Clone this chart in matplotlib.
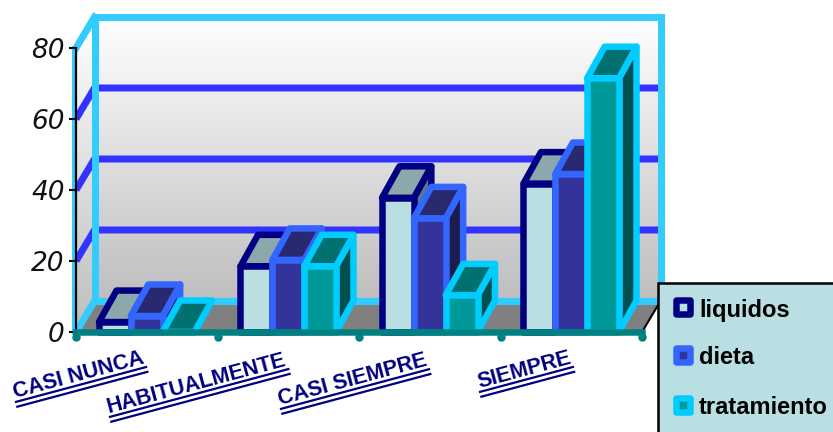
import matplotlib
matplotlib.use("Agg")
import matplotlib.pyplot as plt
import numpy as np
from matplotlib.colors import LinearSegmentedColormap
from matplotlib.patches import Polygon, Rectangle
from matplotlib.transforms import Affine2D, ScaledTranslation

categories = ["CASI NUNCA", "HABITUALMENTE", "CASI SIEMPRE", "SIEMPRE"]
series_names = ["liquidos", "dieta", "tratamiento"]
liquidos = [2.8, 18.5, 37.8, 41.8]
dieta = [4.5, 20.3, 32, 44.5]
tratamiento = [0, 18.5, 10.3, 71.5]
y_ticks = [0, 20, 40, 60, 80]

W, H = 833, 432
DPI = 100

front_colors = ["#b9dfe3", "#333399", "#009999"]
top_colors = ["#8ca8ac", "#29296f", "#007070"]
side_colors = ["#5a7a7e", "#1c1c4e", "#005050"]
edge_colors = ["#000080", "#3366ff", "#00ccff"]
WALL_CYAN = "#33ccff"
GRID_BLUE = "#3333ff"
TEAL = "#008080"
NAVY = "#000080"

fig = plt.figure(figsize=(W / DPI, H / DPI), dpi=DPI, facecolor="white")
ax = fig.add_axes([76 / W, (H - 332) / H, 566 / W, 284 / H])

# pixel coords, origin top left, for labels and legend
px = Affine2D().scale(1 / W, -1 / H).translate(0, 1) + fig.transFigure

x_lo, x_hi = -0.5, 3.5
y_hi = y_ticks[-1]
dx = 18.5 / (566 / 4)   # depth of the 3d box in data units
dy = 31 / (284 / y_hi)
bar_w = 0.225
bar_dx = 17.5 / (566 / 4)
bar_dy = 31.5 / (284 / y_hi)

px_pt = 72 / DPI
wall_lw = 7 * px_pt
bar_lw = 6.5 * px_pt
cmap = LinearSegmentedColormap.from_list("wall", ["#ffffff", "#bebebe"])
grad = np.linspace(0, 1, 256).reshape(-1, 1)

# back wall
ax.imshow(grad, cmap=cmap, aspect="auto", zorder=0.1, clip_on=False,
          extent=(x_lo + dx, x_hi + dx, dy, y_hi + dy))

# left wall, same gradient clipped to the slanted shape
side = Polygon([(x_lo, 0), (x_lo + dx, dy), (x_lo + dx, y_hi + dy), (x_lo, y_hi)],
               closed=True, facecolor="none", edgecolor="none", transform=ax.transData)
ax.add_patch(side)
side_img = ax.imshow(grad, cmap=cmap, aspect="auto", zorder=0.1,
                     extent=(x_lo, x_lo + dx, 0, y_hi + dy))
side_img.set_clip_path(side)

# floor
ax.add_patch(Polygon([(x_lo, 0), (x_hi, 0), (x_hi + dx, dy), (x_lo + dx, dy)], closed=True,
                     facecolor="#808080", edgecolor="none", zorder=0.2, clip_on=False))

# gridlines on both walls
for v in y_ticks[1:-1]:
    ax.plot([x_lo, x_lo + dx, x_hi + dx], [v, v + dy, v + dy], color=GRID_BLUE, lw=wall_lw,
            solid_joinstyle="miter", solid_capstyle="butt", zorder=0.3, clip_on=False)

# wall outline
ax.plot([x_lo + dx, x_hi + dx, x_hi + dx, x_lo + dx, x_lo + dx],
        [y_hi + dy, y_hi + dy, dy, dy, y_hi + dy], color=WALL_CYAN, lw=wall_lw,
        solid_joinstyle="miter", zorder=0.4, clip_on=False)
ax.plot([x_lo, x_lo + dx], [y_hi, y_hi + dy], color=WALL_CYAN, lw=wall_lw, zorder=0.4, clip_on=False)
ax.plot([x_lo, x_lo + dx], [0, dy], color=WALL_CYAN, lw=wall_lw, zorder=0.4, clip_on=False)
ax.add_line(plt.Line2D([x_lo, x_lo], [0, y_hi], color=WALL_CYAN, lw=5 * px_pt, zorder=0.4,
                       clip_on=False, transform=ax.transData + ScaledTranslation(-2 / DPI, 0, fig.dpi_scale_trans)))

# right edge of the floor
ax.plot([x_hi, x_hi + dx], [0, dy], color="black", lw=1.5, zorder=0.5, clip_on=False)


def draw_bar(x0, value, idx):
    x1 = x0 + bar_w
    style = dict(closed=True, edgecolor=edge_colors[idx], lw=bar_lw, joinstyle="round",
                 zorder=1, clip_on=False)
    ax.add_patch(Polygon([(x1, 0), (x1 + bar_dx, bar_dy), (x1 + bar_dx, value + bar_dy), (x1, value)],
                         facecolor=side_colors[idx], **style))
    ax.add_patch(Polygon([(x0, value), (x1, value), (x1 + bar_dx, value + bar_dy), (x0 + bar_dx, value + bar_dy)],
                         facecolor=top_colors[idx], **style))
    ax.add_patch(Polygon([(x0, 0), (x1, 0), (x1, value), (x0, value)],
                         facecolor=front_colors[idx], **style))


for g in range(len(categories)):
    for i, vals in enumerate([liquidos, dieta, tratamiento]):
        draw_bar(g - 1.5 * bar_w + i * bar_w, vals[g], i)

ax.set_xlim(x_lo, x_hi)
ax.set_ylim(0, y_hi)
ax.patch.set_visible(False)

for s in ["top", "right"]:
    ax.spines[s].set_visible(False)
ax.spines["left"].set_color("black")
ax.spines["left"].set_linewidth(1.6)
ax.spines["bottom"].set_color(TEAL)
ax.spines["bottom"].set_linewidth(6.5 * px_pt)

ax.set_yticks(y_ticks)
ax.set_yticklabels([str(v) for v in y_ticks], fontsize=19, fontstyle="oblique", color="#111111",
                   family="DejaVu Sans")
ax.tick_params(axis="y", length=5, width=1.5, color="black", pad=3)

# tick dots below the x axis
x_edges = np.arange(x_lo, x_hi + 1)
ax.set_xticks([])
dots = ax.transData + ScaledTranslation(0, -5 / DPI, fig.dpi_scale_trans)
ax.plot(x_edges, np.zeros(len(x_edges)), "o", ms=7 * px_pt, color=TEAL, transform=dots,
        clip_on=False, zorder=3)

# slanted category labels with a double underline
label_anchors = [(15, 398), (109, 413), (280, 405), (479, 388)]
angle = np.deg2rad(15)
renderer = fig.canvas.get_renderer()
for name, (lx, ly) in zip(categories, label_anchors):
    t = fig.text(lx, ly, name, transform=px, fontsize=15.5, fontweight="bold", color=NAVY,
                 family="Liberation Sans", ha="left", va="baseline", rotation_mode="anchor")
    length = t.get_window_extent(renderer).width
    t.set_rotation(15)
    for off in (4, 9):
        sx = lx + off * np.sin(angle)
        sy = ly + off * np.cos(angle)
        fig.add_artist(plt.Line2D([sx, sx + length * np.cos(angle)], [sy, sy - length * np.sin(angle)],
                                  transform=px, color=NAVY, lw=1.6))

# legend box, runs off the right and bottom edges
fig.add_artist(Rectangle((658, 283), 200, 180, transform=px, facecolor="#b9dfe3",
                         edgecolor="black", lw=1.8))
legend_y = [307, 355, 405]
for i, (name, ly) in enumerate(zip(series_names, legend_y)):
    fig.add_artist(Rectangle((676, ly - 7), 14, 14, transform=px, facecolor=front_colors[i],
                             edgecolor=edge_colors[i], lw=bar_lw, joinstyle="round"))
    fig.text(699, ly + 3, name, transform=px, fontsize=17, fontweight="bold", color="black",
             family="Liberation Sans", ha="left", va="center")

fig.savefig("out.png", dpi=DPI)
